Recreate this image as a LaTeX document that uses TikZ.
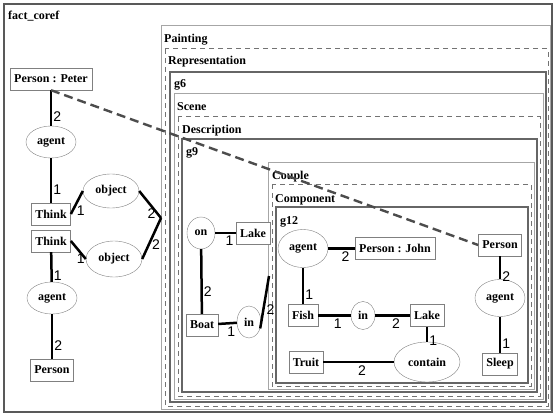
\documentclass[tikz,border=0pt]{standalone}
\usepackage{fontspec}
\setmainfont{Liberation Serif}
\newfontfamily\numfont{Liberation Sans}
\usetikzlibrary{shapes.geometric}

\tikzset{
  concept/.style={draw=gray, fill=white, inner xsep=4pt, inner ysep=0pt, minimum height=22pt,
    font=\fontsize{12}{14}\selectfont\bfseries},
  relation/.style={ellipse, draw=gray, fill=white, inner sep=0pt, minimum width=50pt, minimum height=32pt,
    font=\fontsize{12}{14}\selectfont\bfseries},
  rel/.style={line width=2.5pt},
  lab/.style={inner sep=0pt, font=\numfont\fontsize{14}{16}\selectfont},
  title/.style={anchor=base west, inner sep=0pt, font=\fontsize{12}{14}\selectfont\bfseries},
  outerframe/.style={draw=black!65, line width=1.5pt},
  lightframe/.style={draw=black!35, line width=1pt},
  dashframe/.style={draw=black!55, line width=1pt, dash pattern=on 5pt off 4pt},
  darkframe/.style={draw=black!60, line width=1.3pt},
  coref/.style={draw=black!70, line width=2.4pt, dash pattern=on 9pt off 5pt},
}

\begin{document}
\begin{tikzpicture}[x=1pt, y=-1pt]
    \useasboundingbox (0,0) rectangle (553,414);
    % nested contexts
    \draw[outerframe] (4,4) rectangle (552,412);
    \node[title] (tfact) at (8,20) {fact\_coref};
    \draw[lightframe] (161,26) rectangle (550,409);
    \node[title] (tpaint) at (164,43) {Painting};
    \draw[dashframe] (165,49) rectangle (548,406);
    \node[title] (trep) at (168,65) {Representation};
    \draw[darkframe] (170,72) rectangle (546,402);
    \node[title] (tgsix) at (174,88) {g6};
    \draw[lightframe] (174,94) rectangle (543,399);
    \node[title] (tscene) at (177,111) {Scene};
    \draw[dashframe] (178,117) rectangle (540,396);
    \node[title] (tdesc) at (182,134) {Description};
    \draw[darkframe] (182,139) rectangle (537,392);
    \node[title] (tgnine) at (186,156) {g9};
    \draw[lightframe] (268,162) rectangle (534,389);
    \node[title] (tcouple) at (272,179) {Couple};
    \draw[dashframe] (272,184) rectangle (531,386);
    \node[title] (tcomp) at (275,202) {Component};
    \draw[darkframe] (276,207) rectangle (528,383);
    \node[title] (tgtwelve) at (280,224) {g12};
    \coordinate (ctx) at (161,218);
    \coordinate (cpl) at (269,276);

    % fact_coref graph
    \node[concept] (pp) at (51,79) {Person : Peter};
    \node[relation] (ag1) at (51,142) {agent};
    \node[concept] (th1) at (51,214) {Think};
    \node[concept] (th2) at (51,241) {Think};
    \node[relation, minimum width=56pt, minimum height=34pt] (ob1) at (111,191) {object};
    \node[relation, minimum width=56pt, minimum height=36pt] (ob2) at (114,259) {object};
    \node[relation] (ag2) at (52,298) {agent};
    \node[concept] (pe1) at (52,370) {Person};
    \draw[rel] (pp) -- (ag1) node[lab, pos=0.75, right=1pt] {2};
    \draw[rel] (ag1) -- (th1) node[lab, pos=0.7, right=1pt] {1};
    \draw[rel] (th1.east) -- (ob1.west) node[lab, pos=0.15, right=3pt] {1};
    \draw[rel] (ob1.east) -- (ctx) node[lab, pos=0.85, left=1pt] {2};
    \draw[rel] (th2.east) -- (ob2.west) node[lab, pos=1, anchor=east] {1};
    \draw[rel] (ob2.east) -- (ctx) node[lab, pos=0.35, right=2pt] {2};
    \draw[rel] (th2) -- (ag2) node[lab, pos=0.8, right=1pt] {1};
    \draw[rel] (ag2) -- (pe1) node[lab, pos=0.7, right=1pt] {2};

    % g9
    \node[relation, minimum width=28pt] (on) at (201,233) {on};
    \node[concept] (lk1) at (253,233) {Lake};
    \node[concept] (bt) at (202,325) {Boat};
    \node[relation, minimum width=24pt] (in1) at (249,322) {in};
    \draw[rel] (on) -- (lk1) node[lab, pos=0.7, below=2pt] {1};
    \draw[rel] (on) -- (bt) node[lab, pos=0.65, right=1pt] {2};
    \draw[rel] (bt) -- (in1) node[lab, pos=0.7, below=2pt] {1};
    \draw[rel] (in1.-30) -- (cpl) node[lab, pos=0.35, right=2pt] {2};

    % g12
    \node[relation, minimum height=38pt] (ag3) at (303,248.5) {agent};
    \node[concept] (pj) at (395,248.5) {Person : John};
    \node[concept] (fi) at (303,315.5) {Fish};
    \node[relation, minimum width=24pt, minimum height=28pt] (in2) at (363,315.5) {in};
    \node[concept] (lk2) at (427,315.5) {Lake};
    \node[relation, minimum width=66pt, minimum height=40pt] (ct) at (427,362) {contain};
    \node[concept] (tr) at (306,362) {Truit};
    \node[concept] (ps) at (500,245) {Person};
    \node[relation, minimum height=37pt] (ag4) at (500,298) {agent};
    \node[concept] (sl) at (500,364) {Sleep};
    \draw[rel] (ag3) -- (pj) node[lab, pos=0.65, below=2pt] {2};
    \draw[rel] (ag3) -- (fi) node[lab, pos=0.75, right=1pt] {1};
    \draw[rel] (fi) -- (in2) node[lab, pos=0.6, below=2pt] {1};
    \draw[rel] (in2) -- (lk2) node[lab, pos=0.6, below=2pt] {2};
    \draw[rel] (lk2) -- (ct) node[lab, pos=0.9, right=1pt] {1};
    \draw[rel] (tr) -- (ct) node[lab, pos=0.55, below=2pt] {2};
    \draw[rel] (ps) -- (ag4) node[lab, pos=0.9, right=1pt] {2};
    \draw[rel] (ag4) -- (sl) node[lab, pos=0.75, right=1pt] {1};

    % coreference link
    \draw[coref] (pp.south) -- (ps.west);
\end{tikzpicture}
\end{document}
